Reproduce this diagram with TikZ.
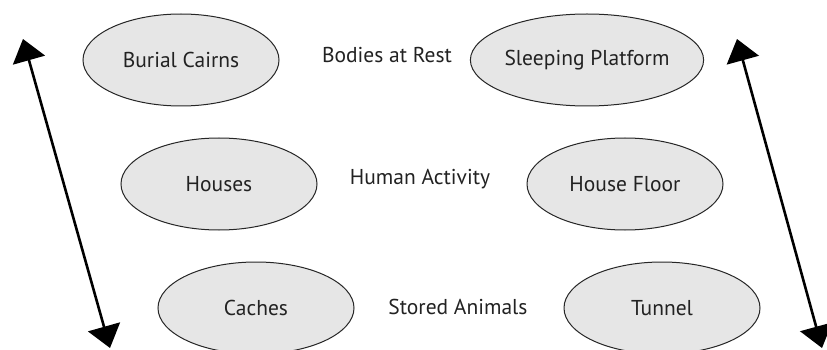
\documentclass[tikz,border=0pt]{standalone}
\usepackage{fontspec}
\setmainfont{PT Sans}
\usetikzlibrary{shapes.geometric,arrows.meta}
\definecolor{ellfill}{HTML}{E6E6E6}
\definecolor{txt}{HTML}{222222}
\tikzset{
  oval/.style={ellipse, draw=black!85, line width=1pt, fill=ellfill, minimum width=196pt, minimum height=92pt, inner sep=0pt, text=txt, font=\fontsize{21.5}{25}\selectfont},
  lbl/.style={text=txt, font=\fontsize{21.5}{25}\selectfont, inner sep=0pt},
  bigarrow/.style={line width=2.6pt, {Triangle[length=22pt,width=33pt]}-{Triangle[length=22pt,width=33pt]}}
}
\begin{document}
\begin{tikzpicture}[x=1pt,y=-1pt]
\useasboundingbox (0,0) rectangle (827,350);
\clip (0,0) rectangle (827,350);
\fill[white] (0,0) rectangle (827,350);
\node[oval] (bc) at (181,60) {Burial Cairns};
\node[oval] (sp) at (587,60) {Sleeping Platform};
\node[oval] (ho) at (219,184) {Houses};
\node[oval] (hf) at (625,184) {House Floor};
\node[oval] (ca) at (256,308) {Caches};
\node[oval] (tu) at (662,308) {Tunnel};
\node[lbl] (rest) at (387,55) {Bodies at Rest};
\node[lbl] (act) at (420,179) {Human Activity};
\node[lbl] (ani) at (458,307) {Stored Animals};
\coordinate (lt) at (23,39);
\coordinate (lb) at (110,348);
\coordinate (rt) at (737,39);
\coordinate (rb) at (822,348);
\draw[bigarrow] (lt) -- (lb);
\draw[bigarrow] (rt) -- (rb);
\end{tikzpicture}
\end{document}
